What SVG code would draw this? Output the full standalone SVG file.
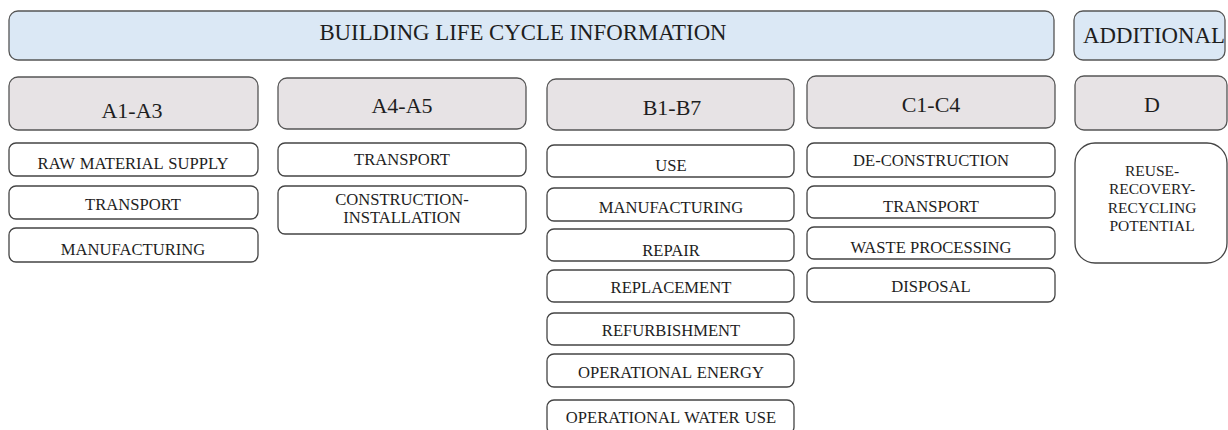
<svg xmlns="http://www.w3.org/2000/svg" width="1228" height="430" viewBox="0 0 1228 430">
<style>
  .bar { fill: #dbe8f5; stroke: #555; stroke-width: 1.3; }
  .hdr { fill: #e7e3e5; stroke: #555; stroke-width: 1.3; }
  .item { fill: #ffffff; stroke: #444; stroke-width: 1.3; }
  text { font-family: 'Liberation Serif', Tinos, 'DejaVu Serif', serif; fill: #1e1e1e; text-anchor: middle; }
  .big { font-size: 22.8px; }
  .h { font-size: 22px; }
  .s { font-size: 16.6px; }
  .d { font-size: 15.5px; }
</style>
<rect width="1228" height="430" fill="#ffffff"/>
<g id="connectors"/>
<g id="life-cycle-info">
  <rect class="bar" x="9" y="11" width="1045" height="49" rx="9"/>
  <text class="big" x="523" y="40">BUILDING LIFE CYCLE INFORMATION</text>
</g>
<g id="additional">
  <rect class="bar" x="1074" y="11" width="151" height="49" rx="9"/>
  <text class="big" x="1154" y="43">ADDITIONAL</text>
</g>
<g id="hdr-a1a3">
  <rect class="hdr" x="9" y="77" width="249" height="53" rx="9"/>
  <text class="h" x="132" y="118">A1-A3</text>
</g>
<g id="hdr-a4a5">
  <rect class="hdr" x="278" y="78" width="248" height="51" rx="9"/>
  <text class="h" x="402" y="113">A4-A5</text>
</g>
<g id="hdr-b1b7">
  <rect class="hdr" x="547" y="79" width="247" height="51" rx="9"/>
  <text class="h" x="672" y="115">B1-B7</text>
</g>
<g id="hdr-c1c4">
  <rect class="hdr" x="807" y="76" width="248" height="52" rx="9"/>
  <text class="h" x="931" y="112">C1-C4</text>
</g>
<g id="hdr-d">
  <rect class="hdr" x="1075" y="76" width="152" height="54" rx="9"/>
  <text class="h" x="1152" y="112">D</text>
</g>
<g id="a-raw">
  <rect class="item" x="9" y="143" width="249" height="33" rx="7"/>
  <text class="s" x="133" y="169" word-spacing="1">RAW MATERIAL SUPPLY</text>
</g>
<g id="a-transport">
  <rect class="item" x="9" y="186" width="249" height="33" rx="7"/>
  <text class="s" x="133" y="210">TRANSPORT</text>
</g>
<g id="a-manufacturing">
  <rect class="item" x="9" y="228" width="249" height="34" rx="7"/>
  <text class="s" x="133" y="255">MANUFACTURING</text>
</g>
<g id="a4-transport">
  <rect class="item" x="278" y="143" width="248" height="33" rx="7"/>
  <text class="s" x="402" y="165">TRANSPORT</text>
</g>
<g id="a4-construction">
  <rect class="item" x="278" y="186" width="248" height="48" rx="7"/>
  <text class="s" x="402" y="205">CONSTRUCTION-</text>
  <text class="s" x="402" y="223">INSTALLATION</text>
</g>
<g id="b-use">
  <rect class="item" x="547" y="145" width="247" height="32" rx="7"/>
  <text class="s" x="671" y="171">USE</text>
</g>
<g id="b-manufacturing">
  <rect class="item" x="547" y="188" width="247" height="33" rx="7"/>
  <text class="s" x="671" y="213">MANUFACTURING</text>
</g>
<g id="b-repair">
  <rect class="item" x="547" y="229" width="247" height="32" rx="7"/>
  <text class="s" x="671" y="256">REPAIR</text>
</g>
<g id="b-replacement">
  <rect class="item" x="547" y="270" width="247" height="32" rx="7"/>
  <text class="s" x="671" y="293">REPLACEMENT</text>
</g>
<g id="b-refurbishment">
  <rect class="item" x="547" y="313" width="247" height="32" rx="7"/>
  <text class="s" x="671" y="336">REFURBISHMENT</text>
</g>
<g id="b-energy">
  <rect class="item" x="547" y="354" width="247" height="33" rx="7"/>
  <text class="s" x="671" y="378" word-spacing="1">OPERATIONAL ENERGY</text>
</g>
<g id="b-water">
  <rect class="item" x="547" y="400" width="247" height="34" rx="7"/>
  <text class="s" x="671" y="423" word-spacing="1">OPERATIONAL WATER USE</text>
</g>
<g id="c-deconstruction">
  <rect class="item" x="807" y="143" width="248" height="34" rx="7"/>
  <text class="s" x="931" y="166">DE-CONSTRUCTION</text>
</g>
<g id="c-transport">
  <rect class="item" x="807" y="186" width="248" height="32" rx="7"/>
  <text class="s" x="931" y="212">TRANSPORT</text>
</g>
<g id="c-waste">
  <rect class="item" x="807" y="227" width="248" height="32" rx="7"/>
  <text class="s" x="931" y="253">WASTE PROCESSING</text>
</g>
<g id="c-disposal">
  <rect class="item" x="807" y="268" width="248" height="34" rx="7"/>
  <text class="s" x="931" y="292">DISPOSAL</text>
</g>
<g id="d-reuse">
  <rect class="item" x="1075" y="143" width="152" height="120" rx="20"/>
  <text class="d" x="1152" y="176">REUSE-</text>
  <text class="d" x="1152" y="194">RECOVERY-</text>
  <text class="d" x="1152" y="213">RECYCLING</text>
  <text class="d" x="1152" y="231">POTENTIAL</text>
</g>
</svg>
